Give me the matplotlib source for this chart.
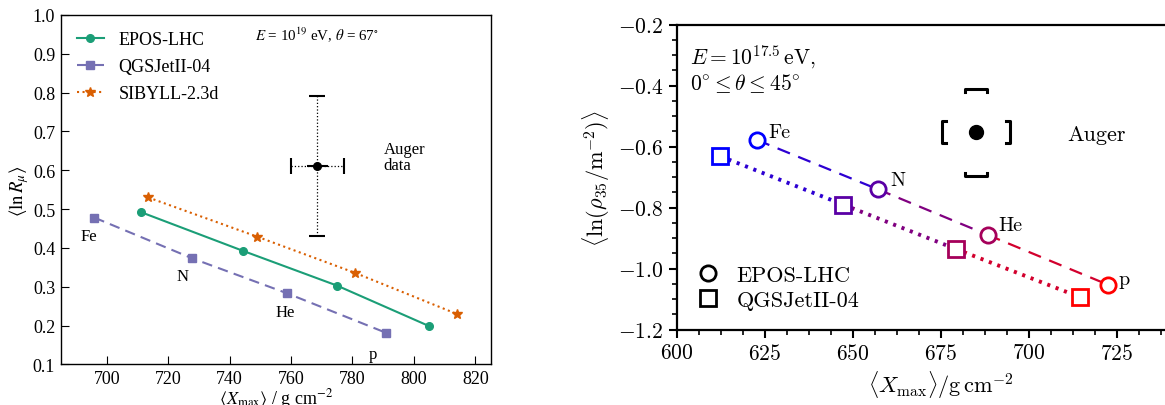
import numpy as np
import matplotlib
matplotlib.use("Agg")
import matplotlib.pyplot as plt
from matplotlib.lines import Line2D
from matplotlib.ticker import MultipleLocator, FixedLocator, FuncFormatter, FormatStrFormatter

plt.rcParams['mathtext.fontset'] = 'cm'
plt.rcParams['font.family'] = ['cmr10', 'DejaVu Serif']
plt.rcParams['axes.unicode_minus'] = False

# ---- left panel data: <ln R_mu> vs <Xmax>, E = 1e19 eV, theta = 67 deg
epos_x = [711.2, 744.2, 775.0, 804.9]
epos_y = [0.492, 0.393, 0.303, 0.199]
qgs_x = [696.0, 727.9, 758.8, 790.8]
qgs_y = [0.478, 0.373, 0.283, 0.182]
sib_x = [713.5, 749.0, 780.8, 814.0]
sib_y = [0.530, 0.429, 0.336, 0.230]
auger_l = (768.6, 0.610)
auger_l_stat = (3.5, 0.0)
auger_l_sys = (8.7, 0.18)
nuclei = ['Fe', 'N', 'He', 'p']
nuc_l_pos = [(691.3, 0.431), (722.7, 0.327), (754.9, 0.235), (785.2, 0.126)]

# ---- right panel data: <ln(rho35)> vs <Xmax>, E = 10^17.5 eV
epos_r_x = [622.8, 657.2, 688.3, 722.6]
epos_r_y = [-0.578, -0.740, -0.889, -1.053]
qgs_r_x = [612.3, 647.3, 679.2, 714.5]
qgs_r_y = [-0.631, -0.790, -0.935, -1.093]
nuc_colors = ['#0000ff', '#5a00a5', '#a5005a', '#ff0000']
nuc_r_pos = [(625.9, -0.552), (660.6, -0.708), (691.3, -0.858), (725.6, -1.033)]
auger_r = (685.0, -0.553)
auger_r_sys = (9.7, 0.142)
xticks_r = [600, 625, 650, 675, 700, 725]

fig = plt.figure(figsize=(11.65, 4.06), dpi=100)

# ================= left panel =================
serif = 'Liberation Serif'
ax1 = fig.add_axes([0.0521, 0.0998, 0.3691, 0.861])
green, purple, orange = '#1b9e77', '#7570b3', '#d95f02'
ax1.plot(epos_x, epos_y, '-o', color=green, lw=1.5, ms=5.5, label='EPOS-LHC')
ax1.plot(qgs_x, qgs_y, '--s', color=purple, lw=1.5, ms=5.5, dashes=(5, 3), label='QGSJetII-04')
ax1.plot(sib_x, sib_y, ':*', color=orange, lw=1.5, ms=7, label='SIBYLL-2.3d')

# systematic (dotted) and statistical (solid) errors of the Auger point
eb = ax1.errorbar(auger_l[0], auger_l[1], xerr=auger_l_sys[0], yerr=auger_l_sys[1],
                  fmt='none', ecolor='black', elinewidth=0.9, capsize=6, capthick=1.5)
for c in eb[2]:
    c.set_linestyle(':')
ax1.errorbar(auger_l[0], auger_l[1], xerr=auger_l_stat[0], yerr=auger_l_stat[1],
             fmt='o', color='black', ms=5.5, elinewidth=1.5)

for name, (x, y) in zip(nuclei, nuc_l_pos):
    ax1.text(x, y, name, family=serif, fontsize=12, ha='left', va='center')
ax1.text(790.1, 0.634, 'Auger\ndata', family=serif, fontsize=12, ha='left', va='center',
         linespacing=1.0)
ax1.text(748.1, 0.951, r'$E$ = 10$^{19}$ eV, $\theta$ = 67$^{\circ}$', family=serif,
         math_fontfamily='stix', fontsize=10.8, ha='left', va='center')

ax1.set_xlim(685, 825)
ax1.set_ylim(0.1, 1.0)
ax1.xaxis.set_major_locator(MultipleLocator(20))
ax1.yaxis.set_major_locator(MultipleLocator(0.1))
ax1.yaxis.set_major_formatter(FormatStrFormatter('%.1f'))
ax1.xaxis.set_major_formatter(FormatStrFormatter('%d'))
ax1.tick_params(direction='in', length=6, width=0.8, labelsize=13,
                labelfontfamily=serif, pad=4)
for s in ax1.spines.values():
    s.set_linewidth(1.0)
ax1.set_xlabel(r'$\langle X_{\mathrm{max}} \rangle$ / g cm$^{-2}$', family=serif,
               math_fontfamily='stix', fontsize=13, labelpad=-1)
ax1.set_ylabel(r'$\langle \ln R_{\mu} \rangle$', family=serif, math_fontfamily='stix',
               fontsize=13.5, labelpad=1)
leg1 = ax1.legend(loc='upper left', frameon=False, prop={'family': serif, 'size': 13},
                  handlelength=1.5, handletextpad=0.8, borderaxespad=0.5,
                  labelspacing=0.55)

# ================= right panel =================
ax2 = fig.add_axes([0.5809, 0.1855, 0.4532, 0.7512])


def mix(c1, c2):
    a = np.array(matplotlib.colors.to_rgb(c1))
    b = np.array(matplotlib.colors.to_rgb(c2))
    return tuple((a + b) / 2)


for i in range(len(nuclei) - 1):
    seg_c = mix(nuc_colors[i], nuc_colors[i + 1])
    ax2.plot(epos_r_x[i:i + 2], epos_r_y[i:i + 2], color=seg_c, lw=1.6,
             dashes=(6, 4), zorder=2)
    ax2.plot(qgs_r_x[i:i + 2], qgs_r_y[i:i + 2], color=seg_c, lw=2.8,
             linestyle=(0, (0.8, 1.5)), zorder=2)
for i, c in enumerate(nuc_colors):
    ax2.plot(epos_r_x[i], epos_r_y[i], 'o', ms=11, mfc='white', mec=c, mew=2, zorder=3)
    ax2.plot(qgs_r_x[i], qgs_r_y[i], 's', ms=11, mfc='white', mec=c, mew=2, zorder=3)

for name, (x, y) in zip(nuclei, nuc_r_pos):
    ax2.text(x, y, name, fontsize=14.5, ha='left', va='center')

# Auger point with systematic brackets
ax2.plot(auger_r[0], auger_r[1], 'o', color='black', ms=10, zorder=4)
ax0, ay0 = auger_r
dx, dy = auger_r_sys
bw, bh = 1.1, 0.036
cw, ch = 3.2, 0.009
ax2.plot([ax0 - dx + bw, ax0 - dx, ax0 - dx, ax0 - dx + bw],
         [ay0 + bh, ay0 + bh, ay0 - bh, ay0 - bh], color='black', lw=2.2)
ax2.plot([ax0 + dx - bw, ax0 + dx, ax0 + dx, ax0 + dx - bw],
         [ay0 + bh, ay0 + bh, ay0 - bh, ay0 - bh], color='black', lw=2.2)
ax2.plot([ax0 - cw, ax0 - cw, ax0 + cw, ax0 + cw],
         [ay0 + dy - ch, ay0 + dy, ay0 + dy, ay0 + dy - ch], color='black', lw=2.2)
ax2.plot([ax0 - cw, ax0 - cw, ax0 + cw, ax0 + cw],
         [ay0 - dy + ch, ay0 - dy, ay0 - dy, ay0 - dy + ch], color='black', lw=2.2)
ax2.text(711.0, -0.558, 'Auger', fontsize=16, ha='left', va='center')

ax2.text(603.7, -0.258, r'$E = 10^{17.5}\,\mathrm{eV}$,' + '\n' +
         r'$0^{\circ} \leq \theta \leq 45^{\circ}$', fontsize=15.5, ha='left', va='top',
         linespacing=1.1)

handles = [Line2D([], [], ls='none', marker='o', ms=11, mfc='white', mec='black', mew=2),
           Line2D([], [], ls='none', marker='s', ms=11, mfc='white', mec='black', mew=2)]
ax2.legend(handles, ['EPOS-LHC', 'QGSJetII-04'], loc='lower left', frameon=False,
           fontsize=16, handlelength=1.0, handletextpad=0.8, labelspacing=0.25,
           borderaxespad=0.5)

ax2.set_xlim(600, 750)
ax2.set_ylim(-1.2, -0.2)
ax2.xaxis.set_major_locator(FixedLocator(xticks_r))
ax2.xaxis.set_minor_locator(MultipleLocator(6.25))
ax2.yaxis.set_major_locator(MultipleLocator(0.2))
ax2.yaxis.set_minor_locator(MultipleLocator(0.05))
ax2.xaxis.set_major_formatter(FuncFormatter(lambda v, p: f'${v:.0f}$'))
ax2.yaxis.set_major_formatter(FuncFormatter(lambda v, p: f'${v:.1f}$'))
ax2.tick_params(which='major', direction='out', length=6, width=1.5, labelsize=15.5)
ax2.tick_params(which='minor', direction='out', length=3.5, width=1.2)
for s in ax2.spines.values():
    s.set_linewidth(1.6)
ax2.set_xlabel(r'$\langle X_{\mathrm{max}} \rangle / \mathrm{g\,cm}^{-2}$', fontsize=16,
               labelpad=4)
ax2.set_ylabel(r'$\langle \ln(\rho_{35}/\mathrm{m}^{-2}) \rangle$', fontsize=16, labelpad=4)

fig.savefig('out.png', dpi=100)
